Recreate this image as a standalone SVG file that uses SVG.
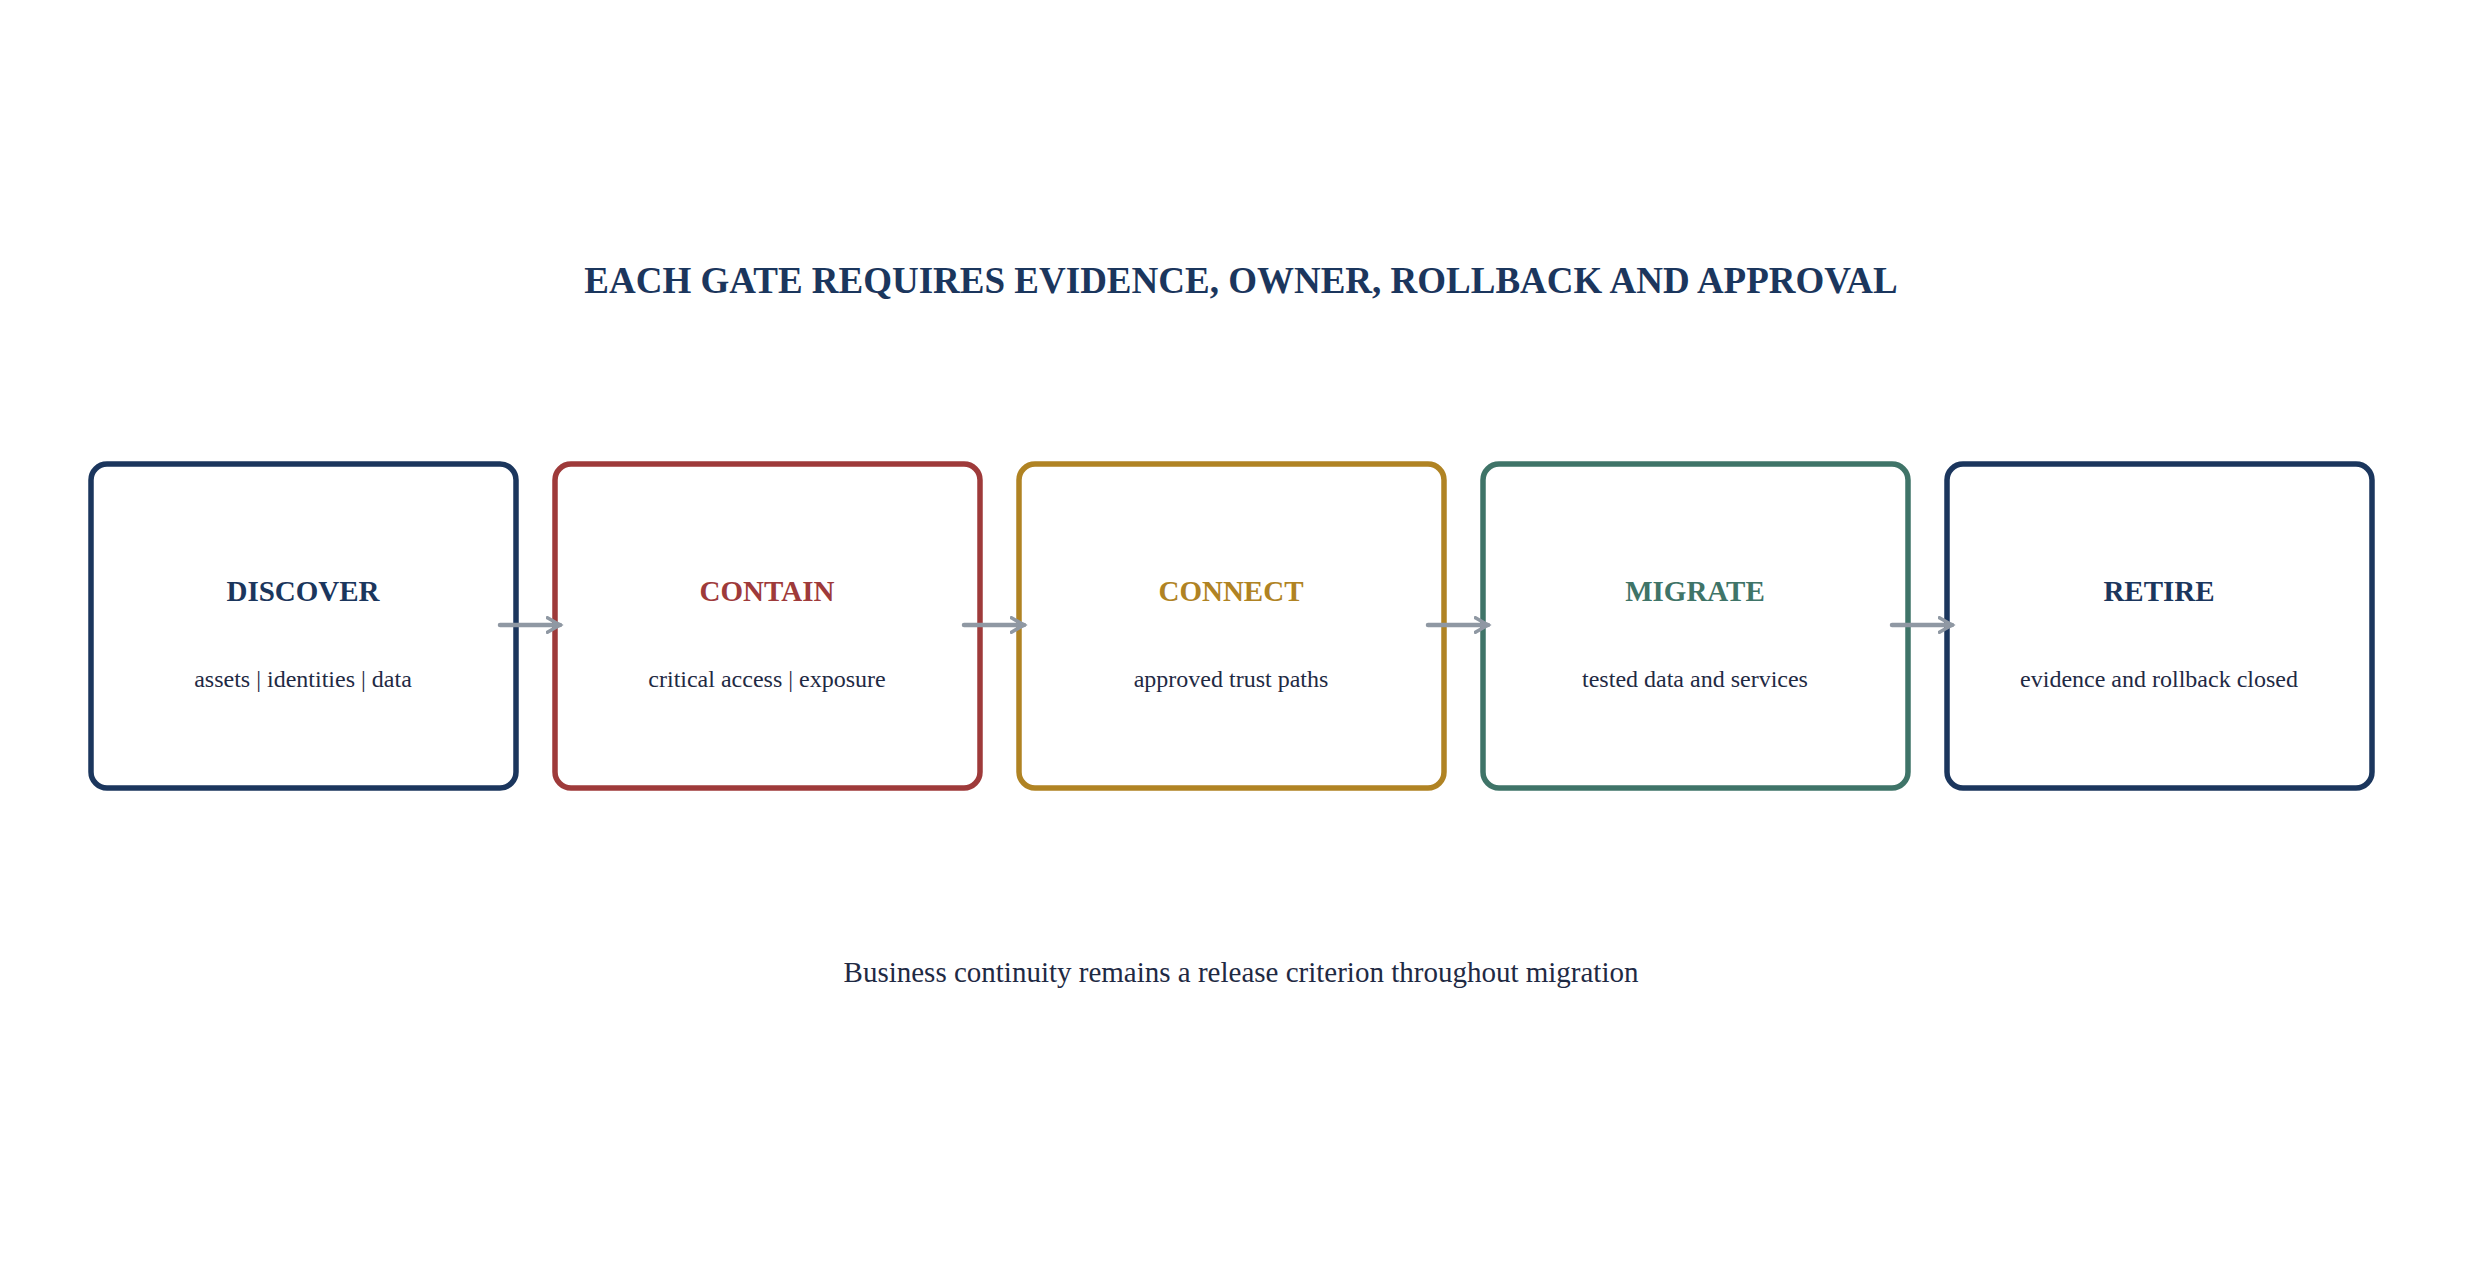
<svg xmlns="http://www.w3.org/2000/svg" width="2486" height="1276" viewBox="0 0 2486 1276">
<style>
.box{fill:#fff;stroke-width:5.5}
.t{font-family:"Liberation Serif",serif;font-weight:bold;font-size:29px;text-anchor:middle}
.s{font-family:"Liberation Serif",serif;font-size:24px;fill:#1f2a44;text-anchor:middle}
.c{stroke:#8f98a3;stroke-width:4.5;fill:none;stroke-linecap:round}
</style>
<defs><marker id="ah" viewBox="0 0 10 10" refX="8" refY="5" markerWidth="4" markerHeight="4" orient="auto"><path d="M1,1 L8,5 L1,9" fill="none" stroke="#8f98a3" stroke-width="2" stroke-linecap="round"/></marker></defs>
<rect width="2486" height="1276" fill="#fff"/>
<text x="1241" y="293" font-family="Liberation Serif,serif" font-weight="bold" font-size="37" fill="#1b365d" text-anchor="middle">EACH GATE REQUIRES EVIDENCE, OWNER, ROLLBACK AND APPROVAL</text>
<g id="n1"><rect class="box" x="91" y="464" width="425" height="324" rx="16" stroke="#1b365d"/><text class="t" x="303" y="601" fill="#1b365d">DISCOVER</text><text class="s" x="303" y="687">assets | identities | data</text></g>
<g id="n2"><rect class="box" x="555" y="464" width="425" height="324" rx="16" stroke="#9e3a3a"/><text class="t" x="767" y="601" fill="#9e3a3a">CONTAIN</text><text class="s" x="767" y="687">critical access | exposure</text></g>
<g id="n3"><rect class="box" x="1019" y="464" width="425" height="324" rx="16" stroke="#b08323"/><text class="t" x="1231" y="601" fill="#b08323">CONNECT</text><text class="s" x="1231" y="687">approved trust paths</text></g>
<g id="n4"><rect class="box" x="1483" y="464" width="425" height="324" rx="16" stroke="#3f7468"/><text class="t" x="1695" y="601" fill="#3f7468">MIGRATE</text><text class="s" x="1695" y="687">tested data and services</text></g>
<g id="n5"><rect class="box" x="1947" y="464" width="425" height="324" rx="16" stroke="#1b365d"/><text class="t" x="2159" y="601" fill="#1b365d">RETIRE</text><text class="s" x="2159" y="687">evidence and rollback closed</text></g>
<g id="connectors">
<line class="c" x1="500" y1="625" x2="560" y2="625" marker-end="url(#ah)"/>
<line class="c" x1="964" y1="625" x2="1024" y2="625" marker-end="url(#ah)"/>
<line class="c" x1="1428" y1="625" x2="1488" y2="625" marker-end="url(#ah)"/>
<line class="c" x1="1892" y1="625" x2="1952" y2="625" marker-end="url(#ah)"/>
</g>
<text x="1241" y="982" font-family="Liberation Serif,serif" font-size="29" fill="#1f2a44" text-anchor="middle">Business continuity remains a release criterion throughout migration</text>
</svg>
